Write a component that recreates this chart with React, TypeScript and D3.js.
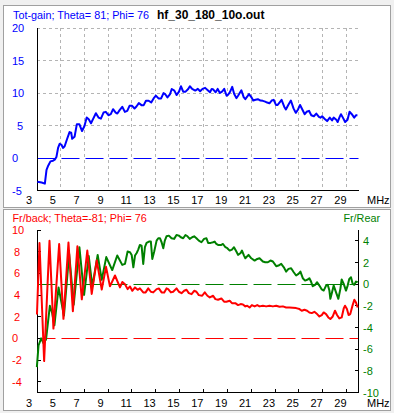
import React from "react";
import * as d3 from "d3";

type Pt = [number, number];

// Top panel: total gain (dBi) vs frequency (MHz)
const gainSeries: Pt[] = [
  [3.07, -3.64], [3.43, -3.78], [3.70, -3.94], [3.84, -1.81], [3.98, -1.19], [4.17, -0.52], [4.39, -0.41],
  [4.53, -0.26], [4.67, 0.16], [4.81, 1.55], [4.94, 2.18], [5.08, 2.07], [5.22, 1.55], [5.36, 1.81],
  [5.55, 2.85], [5.77, 3.99], [5.91, 3.89], [5.99, 2.95], [6.19, 3.26], [6.38, 5.18], [6.60, 5.18],
  [6.82, 4.15], [7.02, 4.92], [7.21, 6.22], [7.38, 5.96], [7.57, 5.34], [7.76, 6.06], [7.98, 6.89],
  [8.20, 6.22], [8.40, 6.06], [8.62, 6.99], [8.81, 7.10], [9.03, 6.58], [9.23, 6.74], [9.42, 7.51],
  [9.64, 6.99], [9.78, 6.84], [9.97, 7.36], [10.19, 7.88], [10.41, 7.10], [10.61, 7.25], [10.80, 8.03],
  [11.02, 8.03], [11.22, 7.62], [11.38, 7.93], [11.58, 8.45], [11.80, 8.13], [11.99, 8.13], [12.18, 8.81],
  [12.40, 8.81], [12.62, 8.55], [12.82, 9.17], [13.01, 9.59], [13.23, 9.17], [13.45, 9.17], [13.65, 9.98],
  [13.78, 9.84], [13.98, 9.33], [14.20, 9.84], [14.34, 10.62], [14.56, 10.36], [14.75, 9.69], [14.95, 10.21],
  [15.11, 11.04], [15.30, 10.21], [15.50, 10.21], [15.72, 10.62], [15.86, 11.04], [16.05, 10.62],
  [16.31, 10.37], [16.53, 10.63], [16.72, 10.26], [16.92, 10.63], [17.14, 10.79], [17.36, 10.42],
  [17.55, 10.11], [17.69, 10.63], [17.83, 10.53], [18.02, 10.11], [18.19, 10.63], [18.38, 10.0],
  [18.58, 10.26], [18.74, 10.63], [18.94, 9.58], [19.07, 9.74], [19.21, 10.11], [19.41, 10.95],
  [19.57, 9.89], [19.76, 9.21], [19.90, 9.58], [20.04, 10.0], [20.18, 10.42], [20.37, 9.37], [20.51, 9.05],
  [20.68, 9.47], [20.82, 9.84], [21.01, 9.37], [21.17, 8.84], [21.37, 8.95], [21.56, 9.05], [21.78, 8.84],
  [21.98, 8.79], [22.17, 8.68], [22.34, 8.53], [22.53, 8.42], [22.72, 8.84], [22.89, 8.95], [23.08, 8.16],
  [23.22, 8.16], [23.44, 8.68], [23.55, 8.95], [23.77, 7.89], [23.91, 7.47], [24.11, 8.16], [24.33, 8.84],
  [24.55, 7.63], [24.74, 6.95], [24.93, 7.47], [25.10, 8.16], [25.29, 7.47], [25.49, 6.74], [25.65, 7.11],
  [25.85, 7.26], [26.04, 6.58], [26.26, 6.42], [26.46, 6.84], [26.68, 6.32], [26.81, 6.21], [26.95, 6.42],
  [27.15, 6.05], [27.37, 5.68], [27.59, 6.21], [27.78, 5.79], [27.92, 6.21], [28.14, 5.89], [28.25, 5.53],
  [28.42, 6.32], [28.53, 6.74], [28.69, 6.21], [28.88, 5.53], [29.08, 5.89], [29.25, 7.11], [29.44, 6.74],
  [29.64, 6.21], [29.80, 6.58], [29.91, 6.58],
];

// Bottom panel, left axis: front/back ratio (dB)
const frontBackSeries: Pt[] = [
  [3.04, 2.2], [3.25, 8.8], [3.64, -2.1], [4.09, 9.0], [4.42, 0.9], [4.9, 8.7], [5.26, 1.8], [5.68, 8.85],
  [6.05, 2.5], [6.43, 8.5], [6.8, 3.6], [7.26, 8.1], [7.63, 4.1], [8.05, 7.2], [8.47, 4.5], [8.83, 6.6],
  [9.16, 4.8], [9.58, 5.8], [10.0, 4.7], [10.2, 5.2],
  [10.42, 5.0], [10.64, 4.54], [10.84, 4.79], [11.03, 4.39], [11.26, 4.70], [11.48, 4.48], [11.67, 4.61],
  [11.95, 4.24], [12.15, 4.24], [12.37, 4.61], [12.59, 4.30], [12.79, 4.24], [13.07, 4.54], [13.26, 4.61],
  [13.49, 4.24], [13.71, 4.24], [13.90, 4.61], [14.04, 4.54], [14.27, 4.24], [14.46, 4.30], [14.74, 4.61],
  [14.94, 4.30], [15.16, 4.17], [15.38, 4.39], [15.58, 4.48], [15.77, 4.17], [16.0, 4.08], [16.22, 4.39],
  [16.41, 4.30], [16.61, 3.99], [16.89, 3.93], [17.11, 4.24], [17.33, 3.93], [17.53, 3.78], [17.81, 3.93],
  [18.0, 3.62], [18.22, 3.56], [18.5, 3.68], [18.73, 3.38], [18.92, 3.38], [19.2, 3.47], [19.39, 3.25],
  [19.67, 3.25], [19.9, 3.07], [20.12, 3.16], [20.31, 3.13], [20.51, 2.95],
  [20.67, 3.01], [20.87, 2.85], [21.06, 3.07], [21.29, 2.95], [21.51, 3.07], [21.7, 2.95], [21.98, 3.01],
  [22.26, 2.95], [22.54, 3.01], [22.82, 2.95], [23.1, 3.01], [23.38, 2.92], [23.66, 2.95], [23.93, 2.85],
  [24.21, 2.85], [24.49, 2.82], [24.77, 2.79], [25.05, 2.70], [25.24, 2.55], [25.47, 2.64], [25.69, 2.55],
  [25.88, 2.39], [26.08, 2.33], [26.3, 2.45], [26.53, 2.24], [26.72, 2.02], [26.92, 2.15], [27.08, 2.39],
  [27.28, 2.24], [27.47, 1.93], [27.64, 1.78], [27.84, 2.02], [28.03, 2.55], [28.2, 2.15], [28.39, 1.84],
  [28.59, 1.93], [28.76, 2.76], [28.87, 3.01], [29.03, 2.70], [29.17, 2.15], [29.31, 2.24], [29.51, 3.07],
  [29.65, 3.56], [29.79, 3.31], [29.93, 2.85],
];

// Bottom panel, right axis: front/rear ratio (dB)
const frontRearSeries: Pt[] = [
  [3.03, -7.66], [3.17, -5.66], [3.39, -5.0], [3.59, -5.45], [3.8, -5.1], [4.12, -2.0], [4.3, -2.6],
  [4.5, -3.8], [4.85, -0.3], [5.3, -2.9], [5.74, 2.8], [6.12, -1.9], [6.6, 3.4], [6.99, -1.0], [7.38, 2.6],
  [7.68, -0.2], [8.13, 2.7], [8.47, 0.4], [8.85, 2.5], [9.35, 1.3], [9.77, 2.65], [10.19, 1.78], [10.42, 1.87],
  [10.64, 3.01], [10.84, 2.95], [10.98, 2.70], [11.12, 1.56], [11.26, 2.64], [11.40, 2.88], [11.53, 3.19],
  [11.67, 3.62], [11.81, 3.56], [11.95, 1.87], [12.09, 3.41], [12.23, 3.81], [12.43, 3.93], [12.59, 3.93],
  [12.71, 2.33], [12.87, 3.01], [13.07, 4.02], [13.21, 4.24], [13.35, 4.24], [13.49, 3.87], [13.63, 3.32],
  [13.76, 4.02], [13.90, 4.42], [14.1, 4.48], [14.32, 4.24], [14.54, 4.18], [14.74, 4.54], [14.94, 4.48],
  [15.1, 4.33], [15.3, 4.24], [15.49, 4.54], [15.66, 4.42], [15.85, 4.18], [16.05, 4.33], [16.22, 4.42],
  [16.41, 4.24], [16.61, 4.02], [16.83, 3.87], [17.05, 4.18], [17.25, 4.24], [17.39, 3.81], [17.61, 3.81],
  [17.81, 3.87], [17.94, 3.93], [18.08, 3.71], [18.22, 3.62], [18.5, 3.62], [18.64, 3.71], [18.84, 3.41],
  [19.0, 3.32], [19.2, 3.10], [19.39, 3.19], [19.56, 3.41], [19.76, 3.01], [19.9, 2.70], [20.12, 2.88],
  [20.23, 3.10], [20.4, 2.64], [20.51, 2.39],
  [20.78, 2.70], [21.01, 2.39], [21.29, 2.18], [21.51, 2.33], [21.7, 2.39], [21.98, 2.09], [22.18, 2.02],
  [22.4, 2.02], [22.62, 2.18], [22.82, 2.09], [23.1, 1.66], [23.29, 1.72], [23.52, 1.87], [23.74, 1.56],
  [23.93, 1.16], [24.13, 1.41], [24.35, 1.47], [24.57, 1.10], [24.77, 0.80], [24.97, 0.95], [25.13, 1.16],
  [25.33, 0.55], [25.52, 0.33], [25.75, 0.43], [25.88, 0.55], [26.02, 0.24], [26.16, -0.19], [26.36, -0.06],
  [26.53, 0.18], [26.72, -0.13], [26.92, -0.49], [27.08, -0.59], [27.28, -0.13], [27.42, -0.06],
  [27.56, -0.59], [27.64, -1.35], [27.75, -0.89], [27.92, -0.13], [28.11, -0.74], [28.31, -1.35],
  [28.48, -0.43], [28.59, 0.43], [28.76, 0.03], [28.95, -0.59], [29.09, -0.13], [29.23, 0.49], [29.37, 0.64],
  [29.51, 0.03], [29.65, -0.06], [29.79, 0.24], [29.93, 0.18],
];

const freqLabels = [3, 5, 7, 9, 11, 13, 15, 17, 19, 21, 23, 25, 27, 29];
const freqGrid = [5, 7, 9, 11, 13, 15, 17, 19, 21, 23, 25, 27, 29];
const gainTicks = [20, 15, 10, 5, 0, -5];
const gainGrid = [5, 10, 15, 20];
const fbTicks = [10, 8, 6, 4, 2, 0, -2, -4];
const frTicks = [4, 2, 0, -2, -4, -6, -8, -10];

const topTitle = "Tot-gain; Theta= 81; Phi= 76";
const fileName = "hf_30_180_10o.out";
const bottomTitle = "Fr/back; Theta=-81; Phi= 76";
const rightTitle = "Fr/Rear";
const unit = "MHz";

const FONT = "'Liberation Sans', Arial, sans-serif";
const BLUE = "#0000ff";
const RED = "#ff0000";
const GREEN = "#008000";
const GRID = "#b4b4b4";

const px = (v: number) => Math.floor(v) + 0.5;

export default function App() {
  const x = d3.scaleLinear().domain([3, 30]).range([36.5, 358.5]);
  const yTop = d3.scaleLinear().domain([-5, 20]).range([190.5, 28]);
  const yL = d3.scaleLinear().domain([-5, 10]).range([392.5, 230]);
  const yR = d3.scaleLinear().domain([-10, 5]).range([392.5, 230]);

  const lineTop = d3.line<Pt>().x((d) => x(d[0])).y((d) => yTop(d[1]));
  const lineL = d3.line<Pt>().x((d) => x(d[0])).y((d) => yL(d[1]));
  const lineR = d3.line<Pt>().x((d) => x(d[0])).y((d) => yR(d[1]));

  const xLabelX = (v: number) => x(v) - (String(v).length === 1 ? 4.5 : 0);

  return (
    <svg
      width={394}
      height={413}
      style={{ position: "absolute", left: 0, top: 0, display: "block" }}
      fontFamily={FONT}
    >
      <rect x={0} y={0} width={394} height={413} fill="#f0f0f0" />
      {/* Panels */}
      <rect x={3.5} y={5.5} width={387} height={202} fill="#fff" stroke="#a0a0a0" />
      <rect x={3.5} y={209.5} width={387} height={201} fill="#fff" stroke="#a0a0a0" />

      {/* ---------- Top panel ---------- */}
      <text x={13} y={18.5} fontSize={10.8} fill={BLUE}>{topTitle}</text>
      <text x={157} y={18.5} fontSize={12} fontWeight="bold" fill="#000">{fileName}</text>

      {gainGrid.map((v) => (
        <line key={"gy" + v} x1={37} x2={358.5} y1={px(yTop(v))} y2={px(yTop(v))}
          stroke={GRID} strokeDasharray="3 3" />
      ))}
      {freqGrid.map((v) => (
        <line key={"gx" + v} x1={px(x(v))} x2={px(x(v))} y1={28} y2={190}
          stroke={GRID} strokeDasharray="3 3" />
      ))}
      <line x1={37.5} x2={358.5} y1={px(yTop(0))} y2={px(yTop(0))} stroke={BLUE} strokeWidth={1.2}
        strokeDasharray="18 6" />
      <line x1={37.5} x2={37.5} y1={28} y2={190.5} stroke="#000" />
      <line x1={37} x2={359} y1={190.5} y2={190.5} stroke="#000" />

      {gainTicks.map((v) => (
        <text key={"gt" + v} x={String(v).length === 1 && v > 0 ? 17 : 12} y={yTop(v) + 4}
          fontSize={11} fill={BLUE}>{v}</text>
      ))}
      {freqLabels.map((v) => (
        <text key={"fx1" + v} x={xLabelX(v)} y={204} fontSize={11} textAnchor="end" fill="#000">{v}</text>
      ))}
      <text x={367} y={204} fontSize={11} fill="#000">{unit}</text>

      <path d={lineTop(gainSeries) || ""} fill="none" stroke={BLUE} strokeWidth={2}
        strokeLinejoin="round" />

      {/* ---------- Bottom panel ---------- */}
      <text x={12.5} y={221.5} fontSize={10.8} fill={RED}>{bottomTitle}</text>
      <text x={380} y={221.5} fontSize={10.8} fill={GREEN} textAnchor="end">{rightTitle}</text>

      <line x1={37.5} x2={358.5} y1={px(yR(0))} y2={px(yR(0))} stroke={GREEN} strokeDasharray="18 6" />
      <line x1={37.5} x2={358.5} y1={px(yL(0))} y2={px(yL(0))} stroke={RED} strokeDasharray="18 6" />

      <line x1={37.5} x2={37.5} y1={230} y2={392.5} stroke="#000" />
      <line x1={37} x2={358.5} y1={392.5} y2={392.5} stroke="#000" />
      <line x1={358.5} x2={358.5} y1={230} y2={393} stroke="#000" />

      {fbTicks.map((v) => (
        <g key={"fb" + v}>
          <line x1={37.5} x2={41} y1={px(yL(v))} y2={px(yL(v))} stroke="#000" />
          <text x={String(v).length === 1 && v > 0 ? 14 : 12} y={yL(v) + 4} fontSize={11} fill={RED}>{v}</text>
        </g>
      ))}
      {frTicks.map((v) => (
        <g key={"fr" + v}>
          <line x1={355} x2={358.5} y1={px(yR(v))} y2={px(yR(v))} stroke="#000" />
          <text x={363} y={yR(v) + 4} fontSize={11} fill={GREEN}>{v}</text>
        </g>
      ))}
      {freqGrid.map((v) => (
        <line key={"bt" + v} x1={px(x(v))} x2={px(x(v))} y1={389} y2={392.5} stroke="#000" />
      ))}
      {freqLabels.map((v) => (
        <text key={"fx2" + v} x={xLabelX(v)} y={407} fontSize={11} textAnchor="end" fill="#000">{v}</text>
      ))}
      <text x={367} y={407} fontSize={11} fill="#000">{unit}</text>

      <path d={lineR(frontRearSeries) || ""} fill="none" stroke={GREEN} strokeWidth={2}
        strokeLinejoin="round" />
      <path d={lineL(frontBackSeries) || ""} fill="none" stroke={RED} strokeWidth={2}
        strokeLinejoin="round" />
    </svg>
  );
}
